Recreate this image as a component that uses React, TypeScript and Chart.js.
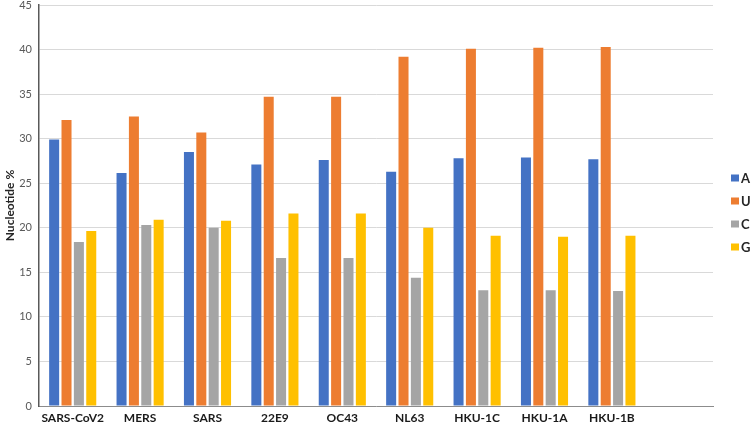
import React, { useEffect, useRef } from "react";
import { Chart, registerables } from "chart.js";

Chart.register(...registerables);

const categories = ["SARS-CoV2", "MERS", "SARS", "22E9", "OC43", "NL63", "HKU-1C", "HKU-1A", "HKU-1B", ""];
const seriesA = [29.9, 26.15, 28.5, 27.1, 27.6, 26.3, 27.8, 27.9, 27.7];
const seriesU = [32.1, 32.5, 30.7, 34.7, 34.7, 39.2, 40.1, 40.2, 40.3];
const seriesC = [18.4, 20.3, 20.0, 16.6, 16.6, 14.4, 13.0, 13.0, 12.9];
const seriesG = [19.65, 20.9, 20.8, 21.6, 21.6, 20.0, 19.1, 19.0, 19.1];
const seriesNames = ["A", "U", "C", "G"];
const seriesColors = ["#4472C4", "#ED7D31", "#A5A5A5", "#FFC000"];
const yTicks = [0, 5, 10, 15, 20, 25, 30, 35, 40, 45];

const FONT = "Lato, 'Open Sans', sans-serif";

const sideLegend = {
  id: "sideLegend",
  afterDraw(chart: any) {
    const ctx = chart.ctx;
    const area = chart.chartArea;
    const n = chart.data.datasets.length;
    const step = 23;
    const cy = (area.top + area.bottom) / 2 + 7;
    const x0 = area.right + 18;
    ctx.save();
    ctx.font = `bold 13px ${FONT}`;
    ctx.textBaseline = "middle";
    ctx.textAlign = "left";
    chart.data.datasets.forEach((ds: any, i: number) => {
      const y = cy + (i - (n - 1) / 2) * step;
      ctx.fillStyle = ds.backgroundColor;
      ctx.fillRect(x0, y - 3.5, 8, 7);
      ctx.fillStyle = "#262626";
      ctx.fillText(ds.label, x0 + 10, y + 0.5);
    });
    ctx.restore();
  },
};

export default function App() {
  const ref = useRef<HTMLCanvasElement>(null);
  useEffect(() => {
    if (!ref.current) return;
    const values = [seriesA, seriesU, seriesC, seriesG];
    const chart = new Chart(ref.current, {
      type: "bar",
      data: {
        labels: categories,
        datasets: values.map((v, i) => ({
          label: seriesNames[i],
          data: v,
          backgroundColor: seriesColors[i],
          borderWidth: 0,
          categoryPercentage: 0.734,
          barPercentage: 0.81,
        })),
      },
      plugins: [sideLegend],
      options: {
        animation: false,
        responsive: false,
        maintainAspectRatio: false,
        layout: { padding: { top: 5, left: 0, right: 39, bottom: 0 } },
        plugins: {
          tooltip: { enabled: false },
          legend: { display: false },
        },
        scales: {
          x: {
            grid: { display: false, drawTicks: false },
            border: { display: true, color: "#8c8c8c", width: 1 },
            ticks: {
              color: "#1a1a1a",
              font: { family: FONT, size: 12, weight: "bold" },
              padding: 5,
              maxRotation: 0,
              autoSkip: false,
            },
            afterFit: (s: any) => { s.height = 21; s.paddingLeft = 0; s.paddingRight = 0; },
          },
          y: {
            min: 0,
            max: 45,
            afterBuildTicks: (s: any) => { s.ticks = yTicks.map((v) => ({ value: v })); },
            grid: { color: "#d9d9d9", drawTicks: false, lineWidth: 1 },
            border: { display: true, color: "#595959", width: 1.5 },
            ticks: {
              color: "#595959",
              font: { family: FONT, size: 11 },
              padding: 7,
            },
            title: {
              display: true,
              text: "Nucleotide %",
              color: "#262626",
              font: { family: FONT, size: 12, weight: "bold" },
              padding: { top: 3, bottom: 0 },
            },
            afterFit: (s: any) => { s.width = 39; s.paddingTop = 0; s.paddingBottom = 0; },
          },
        },
      },
    });
    return () => chart.destroy();
  }, []);
  return (
    <div style={{ position: "fixed", left: 0, top: 0, width: 752, height: 427, background: "#fff" }}>
      <canvas ref={ref} width={752} height={427} style={{ display: "block", width: 752, height: 427 }} />
    </div>
  );
}
